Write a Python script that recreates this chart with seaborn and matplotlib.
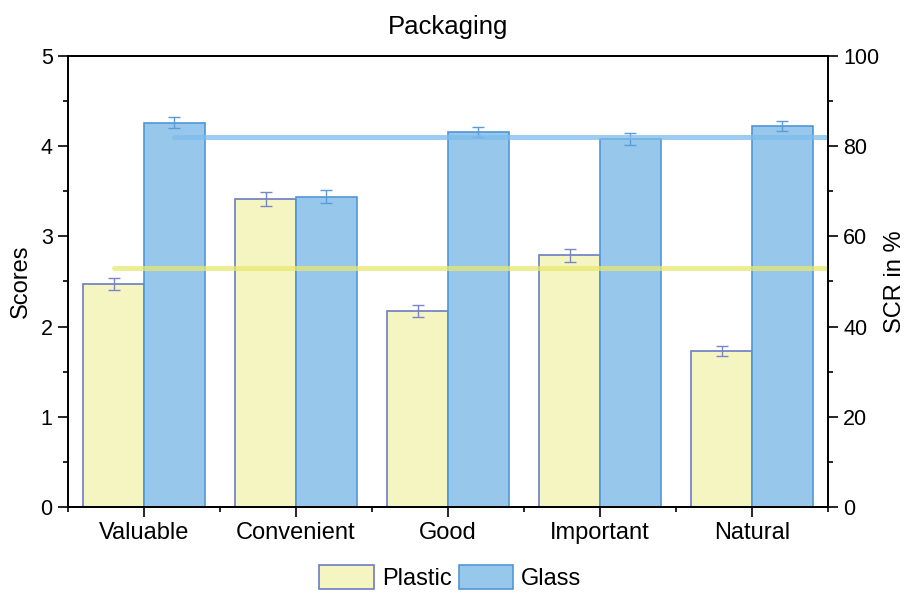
import numpy as np
import pandas as pd
import matplotlib
matplotlib.use("Agg")
import matplotlib.pyplot as plt
from matplotlib.patches import Patch
from matplotlib.ticker import MultipleLocator
import seaborn as sns

categories = ["Valuable", "Convenient", "Good", "Important", "Natural"]
plastic_scores = [2.47, 3.41, 2.17, 2.79, 1.73]
glass_scores = [4.26, 3.44, 4.16, 4.08, 4.22]
plastic_err = [0.066, 0.078, 0.064, 0.074, 0.059]
glass_err = [0.060, 0.075, 0.057, 0.064, 0.057]
scr_plastic = 53.0
scr_glass = 82.0
series = ["Plastic", "Glass"]

fill_colors = {"Plastic": "#F5F5C1", "Glass": "#97C8EC"}
edge_colors = {"Plastic": "#6C7CC2", "Glass": "#5096D8"}
err_colors = {"Plastic": "#7886C8", "Glass": "#5A9CDA"}
line_colors = {"Plastic": "#E8E870", "Glass": "#7DBCEA"}

df = pd.DataFrame({
    "Category": categories * 2,
    "Score": plastic_scores + glass_scores,
    "Material": ["Plastic"] * len(categories) + ["Glass"] * len(categories),
})

sns.set_style("ticks")
plt.rcParams["font.family"] = ["Liberation Sans", "DejaVu Sans"]
for k in ["text.color", "axes.labelcolor", "xtick.color", "ytick.color",
          "axes.edgecolor"]:
    plt.rcParams[k] = "black"

fig = plt.figure(figsize=(9.06, 5.92), dpi=100)
ax = fig.add_axes([0.075, 0.1436, 0.839, 0.7618])

sns.barplot(data=df, x="Category", y="Score", hue="Material", order=categories,
            hue_order=series, palette=fill_colors, errorbar=None, width=0.8,
            gap=0, legend=False, ax=ax, saturation=1)

errs = {"Plastic": plastic_err, "Glass": glass_err}
vals = {"Plastic": plastic_scores, "Glass": glass_scores}
centers = {}
for cont, name in zip(ax.containers, series):
    xs = []
    for bar in cont:
        bar.set_edgecolor(edge_colors[name])
        bar.set_linewidth(1.2)
        xs.append(bar.get_x() + bar.get_width() / 2)
    centers[name] = xs
    ax.errorbar(xs, vals[name], yerr=errs[name], fmt="none",
                ecolor=err_colors[name], elinewidth=1.0, capsize=4,
                capthick=1.0, zorder=5)

ax.set_xlim(-0.5, len(categories) - 0.5)
ax.set_ylim(0, 5)
ax.yaxis.set_major_locator(MultipleLocator(1))
ax.yaxis.set_minor_locator(MultipleLocator(0.5))
ax.xaxis.set_minor_locator(MultipleLocator(0.5))
ax.set_xlabel("")
ax.set_ylabel("Scores", fontsize=17, labelpad=6)
ax.set_title("Packaging", fontsize=18.5, pad=16)
ax.tick_params(axis="both", which="major", length=7, width=1.2,
               direction="out", color="black")
ax.tick_params(axis="x", which="major", labelsize=17, pad=4)
ax.tick_params(axis="y", which="major", labelsize=15.5, pad=4)
ax.tick_params(axis="both", which="minor", length=3.5, width=1.2,
               direction="out", color="black")
for sp in ax.spines.values():
    sp.set_visible(True)
    sp.set_linewidth(1.3)
    sp.set_color("black")

ax2 = ax.twinx()
ax2.set_ylim(0, 100)
ax2.yaxis.set_major_locator(MultipleLocator(20))
ax2.yaxis.set_minor_locator(MultipleLocator(10))
ax2.set_ylabel("SCR in %", fontsize=17, labelpad=3)
ax2.tick_params(axis="y", which="major", length=7, width=1.2, labelsize=15.5,
                direction="out", pad=4)
ax2.tick_params(axis="y", which="minor", length=3.5, width=1.2, direction="out")
for sp in ax2.spines.values():
    sp.set_linewidth(1.3)
    sp.set_color("black")

xend = ax.get_xlim()[1]
for name, scr in [("Plastic", scr_plastic), ("Glass", scr_glass)]:
    x0 = centers[name][0]
    sns.lineplot(x=[x0, xend], y=[scr, scr], ax=ax2, color=line_colors[name],
                 linewidth=3.6, alpha=0.75, legend=False)
ax2.set_xlim(ax.get_xlim())

handles = [Patch(facecolor=fill_colors[n], edgecolor=edge_colors[n], linewidth=1.2, label=n)
           for n in series]
fig.legend(handles=handles, loc="center", bbox_to_anchor=(0.497, 0.024), ncol=2,
           frameon=False, fontsize=17, handlelength=2.3, handleheight=1.15,
           handletextpad=0.34, columnspacing=0.3, borderpad=0.2)

fig.savefig("out.png", dpi=100)
